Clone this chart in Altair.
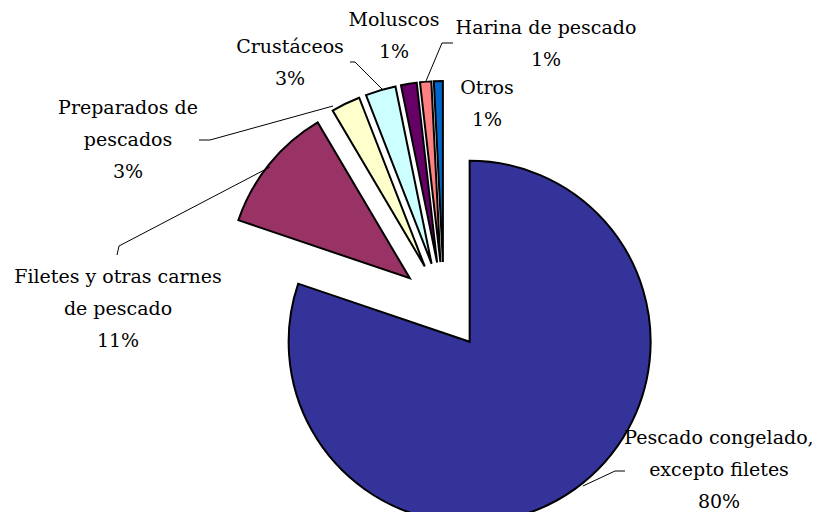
import math
import altair as alt
import pandas as pd

# ---- data ----
categories = ["Pescado congelado, excepto filetes", "Filetes y otras carnes de pescado",
              "Preparados de pescados", "Crustáceos", "Moluscos", "Harina de pescado", "Otros"]
shares = [80.2, 11.3, 2.6, 2.7, 1.4, 1.0, 0.8]
pct_labels = ["80%", "11%", "3%", "3%", "1%", "1%", "1%"]
label_text = ["Pescado congelado,\nexcepto filetes", "Filetes y otras carnes\nde pescado",
              "Preparados de\npescados", "Crustáceos", "Moluscos", "Harina de pescado", "Otros"]
colors = ["#333399", "#993366", "#FFFFCC", "#CCFFFF", "#660066", "#FF8080", "#0066CC"]

# ---- layout (pixels in the plot area) ----
W, H = 807, 504
CX, CY = 436, 298
R = 181
EXPLODE = 44
# position of the first line of each label
label_pos = [(711, 430), (110, 269), (120, 100), (282, 39), (386, 12), (538, 20), (479, 80)]
leaders = [
    [(575, 478), (607, 463), (617, 463)],
    [(109, 247), (111, 238), (262, 159)],
    [(191, 132), (202, 132), (325, 98)],
    [(342, 54), (347, 54), (374, 81)],
    [(445, 35), (434, 35), (418, 73)],
]

total = sum(shares)
rows = []
acc = 0.0
for cat, s, col in zip(categories, shares, colors):
    t0 = acc / total * 2 * math.pi
    acc += s
    t1 = acc / total * 2 * math.pi
    mid = (t0 + t1) / 2
    rows.append({"cat": cat, "t0": t0, "t1": t1,
                 "cx": CX + EXPLODE * math.sin(mid),
                 "cy": CY - EXPLODE * math.cos(mid), "color": col})
pie_df = pd.DataFrame(rows)

lab_df = pd.DataFrame({
    "text": [f"{t}\n{p}" for t, p in zip(label_text, pct_labels)],
    "x": [p[0] for p in label_pos],
    "y": [p[1] for p in label_pos],
})

lead_rows = []
for i, pts in enumerate(leaders):
    for j, (x, y) in enumerate(pts):
        lead_rows.append({"id": i, "seq": j, "x": x, "y": y})
lead_df = pd.DataFrame(lead_rows)

pie = alt.Chart(pie_df).mark_arc(radius=R, stroke="black", strokeWidth=2).encode(
    x=alt.X("cx:Q", scale=None),
    y=alt.Y("cy:Q", scale=None),
    theta=alt.Theta("t0:Q", scale=None),
    theta2=alt.Theta2("t1:Q"),
    color=alt.Color("color:N", scale=None),
)

lines = alt.Chart(lead_df).mark_line(color="black", strokeWidth=1).encode(
    x=alt.X("x:Q", scale=None),
    y=alt.Y("y:Q", scale=None),
    detail="id:N",
    order="seq:Q",
)

labels = alt.Chart(lab_df).mark_text(
    font="DejaVu Serif", fontSize=19, lineBreak="\n", lineHeight=32,
    align="center", baseline="middle", color="black",
).encode(
    x=alt.X("x:Q", scale=None),
    y=alt.Y("y:Q", scale=None),
    text="text:N",
)

chart = alt.layer(pie, lines, labels).properties(
    width=W, height=H, padding=0, autosize="none"
).configure_view(stroke=None)

chart.save("out.html", embed_options={"renderer": "svg", "actions": False})
